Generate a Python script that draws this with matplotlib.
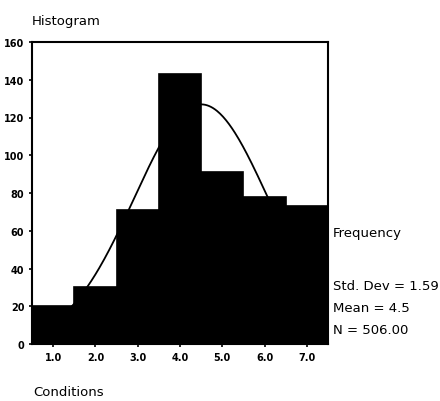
import numpy as np
import matplotlib
matplotlib.use('Agg')
import matplotlib.pyplot as plt

# histogram bins (Conditions 1..7) and counts
conditions = [1, 2, 3, 4, 5, 6, 7]
counts = [20, 30, 71, 143, 91, 78, 73]
x_labels = ['1.0', '2.0', '3.0', '4.0', '5.0', '6.0', '7.0']
y_ticks = [0, 20, 40, 60, 80, 100, 120, 140, 160]

# summary statistics shown at right
std_dev = 1.59
mean = 4.5
n_total = 506.00

fig = plt.figure(figsize=(4.4, 4.02), dpi=100)
ax = fig.add_axes([32 / 440, 57 / 402, 296 / 440, 302 / 402])

ax.bar(conditions, counts, width=1.0, color='black', edgecolor='black', linewidth=1.2, zorder=2)

# fitted normal curve
xs = np.linspace(0.5, 7.5, 300)
ys = n_total / (std_dev * np.sqrt(2 * np.pi)) * np.exp(-0.5 * ((xs - mean) / std_dev) ** 2)
ax.plot(xs, ys, color='black', linewidth=1.3, zorder=1)

ax.set_xlim(0.5, 7.5)
ax.set_ylim(0, 160)
ax.set_xticks(conditions)
ax.set_xticklabels(x_labels)
ax.set_yticks(y_ticks)
ax.tick_params(axis='both', direction='out', length=2.5, width=1.2, labelsize=7, pad=3)
for lab in ax.get_xticklabels() + ax.get_yticklabels():
    lab.set_fontweight('bold')
for s in ax.spines.values():
    s.set_linewidth(1.5)

fs = 9.5
fig.text(32 / 440, 1 - 21 / 402, 'Histogram', fontsize=fs, va='center', ha='left')
fig.text(33 / 440, 1 - 393 / 402, 'Conditions', fontsize=fs, va='center', ha='left')
fig.text(333 / 440, 1 - 234 / 402, 'Frequency', fontsize=fs, va='center', ha='left')
fig.text(333 / 440, 1 - 287 / 402, f'Std. Dev = {std_dev:.2f}', fontsize=fs, va='center', ha='left')
fig.text(333 / 440, 1 - 309 / 402, f'Mean = {mean}', fontsize=fs, va='center', ha='left')
fig.text(333 / 440, 1 - 331 / 402, f'N = {n_total:.2f}', fontsize=fs, va='center', ha='left')

fig.savefig('out.png', dpi=100)
